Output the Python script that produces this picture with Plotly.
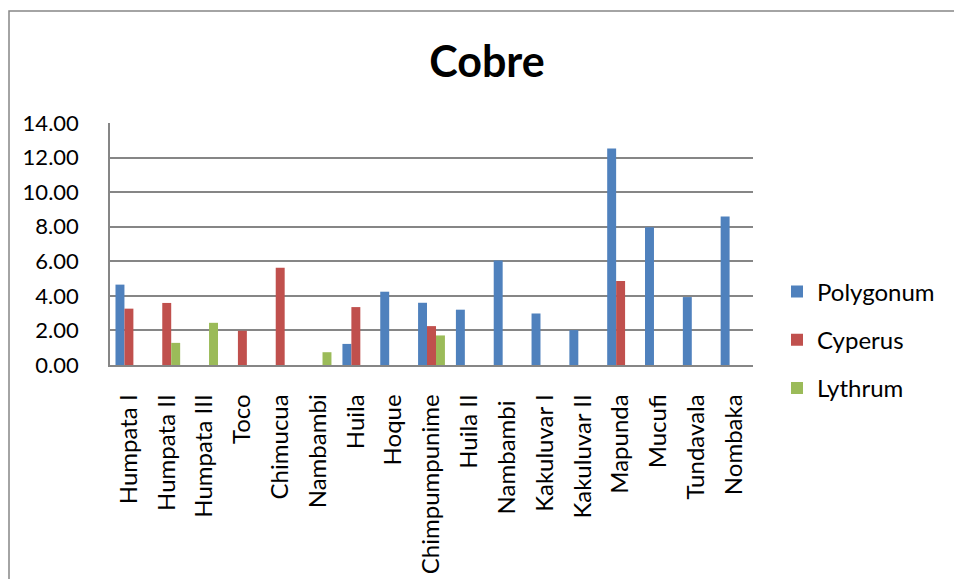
import plotly.graph_objects as go

# Sampling sites along the x axis
sites = ["Humpata I", "Humpata II", "Humpata III", "Toco", "Chimucua", "Nambambi",
         "Huila", "Hoque", "Chimpumpunime", "Huila II", "Nambambi ", "Kakuluvar I",
         "Kakuluvar II", "Mapunda", "Mucufi", "Tundavala", "Nombaka"]

# Copper concentration per plant genus (None = not measured)
polygonum = [4.65, None, None, None, None, None, 1.22, 4.24, 3.60, 3.20, 6.05, 2.98,
             2.02, 12.52, 7.97, 3.93, 8.59]
cyperus = [3.26, 3.59, None, 1.98, 5.62, None, 3.35, None, 2.25, None, None, None,
           None, 4.86, None, None, None]
lythrum = [None, 1.28, 2.44, None, None, 0.74, None, None, 1.71, None, None, None,
           None, None, None, None, None]

series = [("Polygonum", polygonum, "#4F81BD"),
          ("Cyperus", cyperus, "#C0504D"),
          ("Lythrum", lythrum, "#9BBB59")]

FONT = "Lato, Carlito, Calibri, sans-serif"

fig = go.Figure()
for name, vals, color in series:
    fig.add_trace(go.Bar(x=sites, y=vals, name=name, marker_color=color,
                         marker_line_width=0, legendgroup=name))

L, R, T, B = 110, 201, 123, 214
W, H = 954, 579
pw, ph = W - L - R, H - T - B

fig.update_layout(
    width=W, height=H,
    margin=dict(l=L, r=R, t=T, b=B, autoexpand=False),
    paper_bgcolor="white", plot_bgcolor="white",
    barmode="group", bargap=0.29, bargroupgap=0,
    font=dict(family=FONT, color="black"),
    title=dict(text="<b>Cobre</b>", x=487 / W, xanchor="center",
               y=1 - 62 / H, yanchor="middle",
               font=dict(size=43, family=FONT, color="black")),
    legend=dict(x=(777 - L) / pw, xanchor="left", y=(H - B - 340) / ph, yanchor="middle",
                font=dict(size=24, family=FONT), tracegroupgap=14,
                itemwidth=30, bgcolor="rgba(0,0,0,0)"),
    showlegend=True,
)

fig.update_yaxes(range=[0, 14], dtick=2, tickformat=".2f",
                 showgrid=True, gridcolor="#868686", gridwidth=1.5,
                 showline=True, linecolor="#868686", linewidth=1.5,
                 ticks="", tickfont=dict(size=22, family=FONT), zeroline=False,
                 ticklabelstandoff=25, automargin=False)
fig.update_xaxes(showline=True, linecolor="#868686", linewidth=1.5,
                 tickangle=-90, tickfont=dict(size=24, family=FONT),
                 ticks="", showgrid=False, ticklabelstandoff=18, automargin=False)

# Chart outer border
fig.add_shape(type="rect", xref="paper", yref="paper",
              x0=(9 - L) / pw, x1=(W + 10 - L) / pw,
              y0=(H - B - (H + 10)) / ph, y1=(H - B - 11) / ph,
              line=dict(color="#868686", width=1.5), fillcolor="rgba(0,0,0,0)",
              layer="below")

fig.write_html("out.html")
